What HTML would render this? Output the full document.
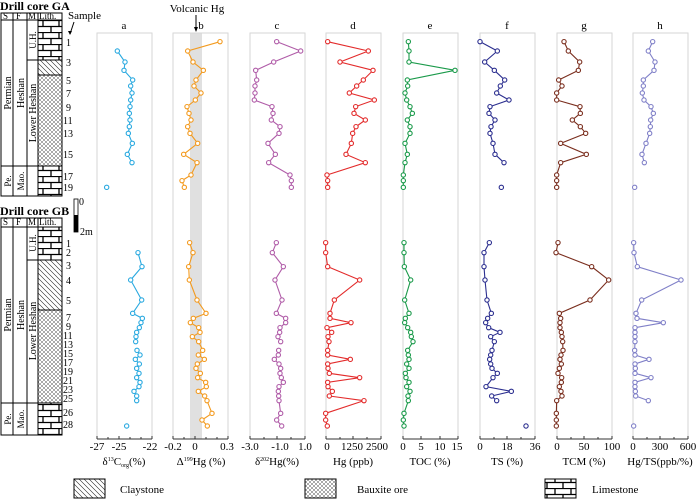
<!DOCTYPE html>
<html><head><meta charset="utf-8"><style>
html,body{margin:0;padding:0;background:#fff;}
svg{display:block;font-family:"Liberation Serif",serif;}
</style></head><body>
<svg width="700" height="499" viewBox="0 0 700 499" xmlns="http://www.w3.org/2000/svg">
<defs>
<pattern id="lime" width="16" height="12" patternUnits="userSpaceOnUse" x="38" y="20">
<rect width="16" height="12" fill="#fff"/>
<path d="M0 0.5H16M0 6.5H16M5 0V6M13 6V12" stroke="#000" stroke-width="1.3" fill="none"/>
</pattern>
<pattern id="clay" width="5" height="5" patternUnits="userSpaceOnUse">
<rect width="5" height="5" fill="#fff"/>
<path d="M-1 -1L6 6M-1 4L1 6M4 -1L6 1" stroke="#222" stroke-width="0.6"/>
</pattern>
<pattern id="baux" width="4" height="4" patternUnits="userSpaceOnUse">
<rect width="4" height="4" fill="#fff"/>
<path d="M0 0L4 4M4 0L0 4" stroke="#555" stroke-width="0.5"/>
</pattern>
</defs>

<text x="0" y="10" font-size="12" font-weight="bold">Drill core GA</text>
<g font-size="10">
<rect x="38" y="20" width="24" height="40" fill="url(#lime)"/>
<rect x="38" y="60" width="24" height="15" fill="url(#clay)"/>
<rect x="38" y="75" width="24" height="91" fill="url(#baux)"/>
<rect x="38" y="166" width="24" height="30" fill="url(#lime)"/>
<g fill="none" stroke="#000" stroke-width="1">
<rect x="1" y="13" width="61" height="183"/>
<path d="M1 20H62M13 13V196M27 13V196M38 13V196M1 166H38M27 60H62M38 75H62M38 166H62"/>
</g>
<text x="3" y="19" font-size="9">S</text><text x="16" y="19" font-size="9">F</text><text x="28" y="19" font-size="9">M</text><text x="39" y="19" font-size="9">Lith.</text>
<text transform="translate(11,93) rotate(-90)" text-anchor="middle">Permian</text>
<text transform="translate(24,93) rotate(-90)" text-anchor="middle">Heshan</text>
<text transform="translate(36,40) rotate(-90)" text-anchor="middle" font-size="9">U.H.</text>
<text transform="translate(36,113) rotate(-90)" text-anchor="middle">Lower Heshan</text>
<text transform="translate(11,181) rotate(-90)" text-anchor="middle" font-size="9">Pe.</text>
<text transform="translate(24,181) rotate(-90)" text-anchor="middle" font-size="9">Mao.</text>
<g font-size="10">
<text x="66" y="46">1</text><text x="66" y="66">3</text><text x="66" y="84">5</text><text x="66" y="97">7</text><text x="66" y="111">9</text><text x="63" y="124">11</text><text x="63" y="137">13</text><text x="63" y="158">15</text><text x="63" y="180">17</text><text x="63" y="191">19</text>
</g>
<text x="68" y="19" font-size="11">Sample</text>
<path d="M74 22L70 34" stroke="#000"/><path d="M68 31L70 35L72 31Z" fill="#000"/>
</g>

<rect x="74" y="199" width="4" height="33" fill="#fff" stroke="#000" stroke-width="0.8"/>
<rect x="74" y="215" width="4" height="17" fill="#000"/>
<text x="79" y="205" font-size="10">0</text>
<text x="80" y="235" font-size="10">2m</text>

<text x="0" y="215" font-size="12" font-weight="bold">Drill core GB</text>
<g font-size="10">
<rect x="38" y="227" width="24" height="33" fill="url(#lime)"/>
<rect x="38" y="260" width="24" height="50" fill="url(#clay)"/>
<rect x="38" y="310" width="24" height="93" fill="url(#baux)"/>
<rect x="38" y="403" width="24" height="32" fill="url(#lime)"/>
<g fill="none" stroke="#000" stroke-width="1">
<rect x="1" y="218" width="61" height="217"/>
<path d="M1 227H62M13 218V435M27 218V435M38 218V435M1 403H62M27 260H62M38 310H62"/>
</g>
<text x="3" y="225" font-size="9">S</text><text x="16" y="225" font-size="9">F</text><text x="28" y="225" font-size="9">M</text><text x="39" y="225" font-size="9">Lith.</text>
<text transform="translate(11,315) rotate(-90)" text-anchor="middle">Permian</text>
<text transform="translate(24,315) rotate(-90)" text-anchor="middle">Heshan</text>
<text transform="translate(36,243) rotate(-90)" text-anchor="middle" font-size="9">U.H.</text>
<text transform="translate(36,331) rotate(-90)" text-anchor="middle">Lower Heshan</text>
<text transform="translate(11,419) rotate(-90)" text-anchor="middle" font-size="9">Pe.</text>
<text transform="translate(24,419) rotate(-90)" text-anchor="middle" font-size="9">Mao.</text>
<g font-size="10">
<text x="66" y="247">1</text><text x="66" y="256">2</text><text x="66" y="269">3</text><text x="66" y="284">4</text><text x="66" y="304">5</text><text x="66" y="321">7</text><text x="66" y="330">9</text><text x="63" y="339">11</text><text x="63" y="348">13</text><text x="63" y="357">15</text><text x="63" y="366">17</text><text x="63" y="375">19</text><text x="63" y="384">21</text><text x="63" y="393">23</text><text x="63" y="402">25</text><text x="63" y="416">26</text><text x="63" y="428">28</text>
</g>
</g>

<rect x="190" y="33" width="12" height="406" fill="#e0e0e0"/>
<g fill="none" stroke="#d6d6d6" stroke-width="1">
<path d="M97 439V33H152V439M173 439V33H228V439M250 439V33H305V439M326 439V33H381V439M403 439V33H458V439M480 439V33H535V439M557 439V33H612V439M633 439V33H688V439"/>
</g>
<g font-size="11" text-anchor="middle">
<text x="124" y="29">a</text><text x="201" y="29">b</text><text x="277" y="29">c</text><text x="353" y="29">d</text><text x="430" y="29">e</text><text x="507" y="29">f</text><text x="584" y="29">g</text><text x="660" y="29">h</text>
<text x="197" y="12">Volcanic Hg</text>
</g>
<path d="M196 15V30" stroke="#000"/><path d="M194 27L196 32L198 27Z" fill="#000"/>

<g stroke="#333" stroke-width="1" fill="none">
<path d="M97 439H152M173 439H228M250 439H305M326 439H381M403 439H458M480 439H535M557 439H612M633 439H688"/>
<path d="M97 439v-3M108 439v-2M119 439v-3M130 439v-2M141 439v-2M152 439v-3
M173 439v-3M184 439v-2M195 439v-3M206 439v-2M217 439v-2M228 439v-3
M250 439v-3M264 439v-2M277 439v-3M291 439v-2M305 439v-3
M326 439v-3M340 439v-2M353 439v-3M367 439v-2M381 439v-3
M403 439v-3M421 439v-3M440 439v-3M458 439v-3
M480 439v-3M494 439v-2M507 439v-3M521 439v-2M535 439v-3
M557 439v-3M571 439v-2M584 439v-3M598 439v-2M612 439v-3
M633 439v-3M647 439v-2M660 439v-3M674 439v-2M688 439v-3"/>
</g>
<g font-size="11" text-anchor="middle">
<text x="97" y="450">-27</text><text x="119" y="450">-25</text><text x="150" y="450">-22</text>
<text x="173" y="450">-0.2</text><text x="195" y="450">0</text><text x="227" y="450">0.3</text>
<text x="250" y="450">-3.0</text><text x="280" y="450">-1.0</text><text x="305" y="450">1.0</text>
<text x="327" y="450">0</text><text x="352" y="450">1250</text><text x="377" y="450">2500</text>
<text x="403" y="450">0</text><text x="421" y="450">5</text><text x="440" y="450">10</text><text x="457" y="450">15</text>
<text x="480" y="450">0</text><text x="507" y="450">18</text><text x="535" y="450">36</text>
<text x="557" y="450">0</text><text x="584" y="450">50</text><text x="612" y="450">100</text>
<text x="633" y="450">0</text><text x="660" y="450">300</text><text x="688" y="450">600</text>
<text x="124" y="465">δ<tspan font-size="6" dy="-4">13</tspan><tspan dy="4">C</tspan><tspan font-size="6" dy="2">org</tspan><tspan dy="-2">(%)</tspan></text>
<text x="201" y="465">Δ<tspan font-size="6" dy="-4">199</tspan><tspan dy="4">Hg (%)</tspan></text>
<text x="277" y="465">δ<tspan font-size="6" dy="-4">202</tspan><tspan dy="4">Hg(%)</tspan></text>
<text x="353" y="465">Hg (ppb)</text>
<text x="430" y="465">TOC (%)</text>
<text x="507" y="465">TS (%)</text>
<text x="584" y="465">TCM (%)</text>
<text x="660" y="465">Hg/TS(ppb/%)</text>
</g>

<rect x="74" y="479" width="31" height="19" fill="url(#clay)" stroke="#000"/>
<text x="120" y="493" font-size="11">Claystone</text>
<rect x="305" y="479" width="31" height="19" fill="url(#baux)" stroke="#000"/>
<text x="357" y="493" font-size="11">Bauxite ore</text>
<rect x="545" y="479" width="31" height="19" fill="url(#lime)" stroke="#000"/>
<text x="592" y="493" font-size="11">Limestone</text>

<script>
function series(tx,ty,color,lines,iso){
  const NS="http://www.w3.org/2000/svg";
  const svg=document.querySelector("svg");
  const g=document.createElementNS(NS,"g");
  g.setAttribute("transform","translate("+tx+","+ty+") scale(0.33333)");
  g.setAttribute("fill","none");g.setAttribute("stroke",color);g.setAttribute("stroke-width","3.3");
  let all=[];
  lines.forEach(l=>{const p=document.createElementNS(NS,"polyline");p.setAttribute("points",l.map(q=>q.join(",")).join(" "));g.appendChild(p);all=all.concat(l);});
  all=all.concat(iso||[]);
  all.forEach(q=>{const c=document.createElementNS(NS,"circle");c.setAttribute("cx",q[0]);c.setAttribute("cy",q[1]);c.setAttribute("r","6.5");c.setAttribute("fill","#fff");g.appendChild(c);});
  svg.appendChild(g);
}
const GY=[125,153,186,211,240,258,279,300,320,340,360,380,400,430,463,488,525,542,562];
function z(xs,ys){return xs.map((x,i)=>[x,ys[i]]);}
series(90,0,"#29a9e0",[z([82,105,102,128,122,126,122,120,118,120,118,115,127,112,126],GY.slice(1))],[[50,562]]);
series(90,0,"#f39a1e",[z([390,293,309,340,318,312,333,316,291,297,303,293,300,323,281,321,303,276,283],GY)]);
series(90,0,"#b05ca8",[z([560,632,551,497,500,495,495,493,546,549,544,570,567,534,556,536,600,604,604],GY)]);
series(90,0,"#e32b2b",[z([713,835,750,849,820,800,778,853,797,792,826,798,788,784,768,826,711,713,713],GY)]);
series(390,0,"#1a9a4a",[z([55,57,57,195,52,53,45,50,60,67,52,60,60,45,52,45,40,40,40],GY)]);
series(390,0,"#2b2e8f",[z([270,322,284,313,344,331,320,357,300,297,315,303,300,309,315,342],GY)],[[334,562]]);
series(390,0,"#7a2e1e",[z([522,535,569,565,506,516,500,500,570,571,547,571,587,512,589,512,500,500,500],GY)]);
series(390,0,"#8080c8",[z([788,775,795,792,760,760,757,762,783,790,782,781,779,768,756,763],GY)],[[734,562]]);
const BY=[38,68,110,150,210,250,265,278,293,307,320,335,361,375,388,402,415,430,443,457,470,484,498,512,550,570,588];
const A1=BY.slice(1,12), A2=BY.slice(12,24);
series(90,230,"#29a9e0",[z([144,156,122,155,128,157,153,148,140,138,137],A1),z([141,150,136,148,140,147,140,150,147,132,140,140],A2)],[[110,588]]);
series(90,230,"#f39a1e",[z([299,309,296,298,321,348,310,301,326,330,307,326,338,325,343,322,318,331,323,347,349,325,344,351,366,336,352],BY)]);
series(90,230,"#b05ca8",[z([559,547,580,555,576,559,587,587,570,569,564,572],BY.slice(0,12)),z([566,565,553,567,572,570,574,580,567,565,566,567,572,560,575],BY.slice(12))]);
series(90,230,"#e32b2b",[z([707,707,713,809,733,720,720,783,711,725,714,717,713,713,781,713,714,718,809,713,714,727,718,822,707,707,712],BY)]);
series(390,230,"#1a9a4a",[z([42,42,43,62,44,57,46,44,53,62,64,69,53,55,57,50,57,46,48,57,50,60,54,55,42,40,42],BY)]);
series(390,230,"#2b2e8f",[z([298,282,282,285,291,304,293,287,296,330,302,313,306,302,299,302,306,322,309,288,364,305,320],[38,68,110,150,210,250,265,278,293,307,320,335,361,375,388,402,415,430,443,470,484,498,512])],[[408,588]]);
series(390,230,"#7a2e1e",[z([504,498,605,656,600,508,512,510,510,514,516,518,519,513,510,514,508,504,515,514,508,513,516,500,499,499,499],BY)]);
series(390,230,"#8080c8",[z([731,732,742,873,755,738,741,820,735,735,735,735,734,735,777,735,736,735,783,735,735,736,737,775],BY.slice(0,24))],[[731,588]]);
</script>
</svg>
</body></html>
